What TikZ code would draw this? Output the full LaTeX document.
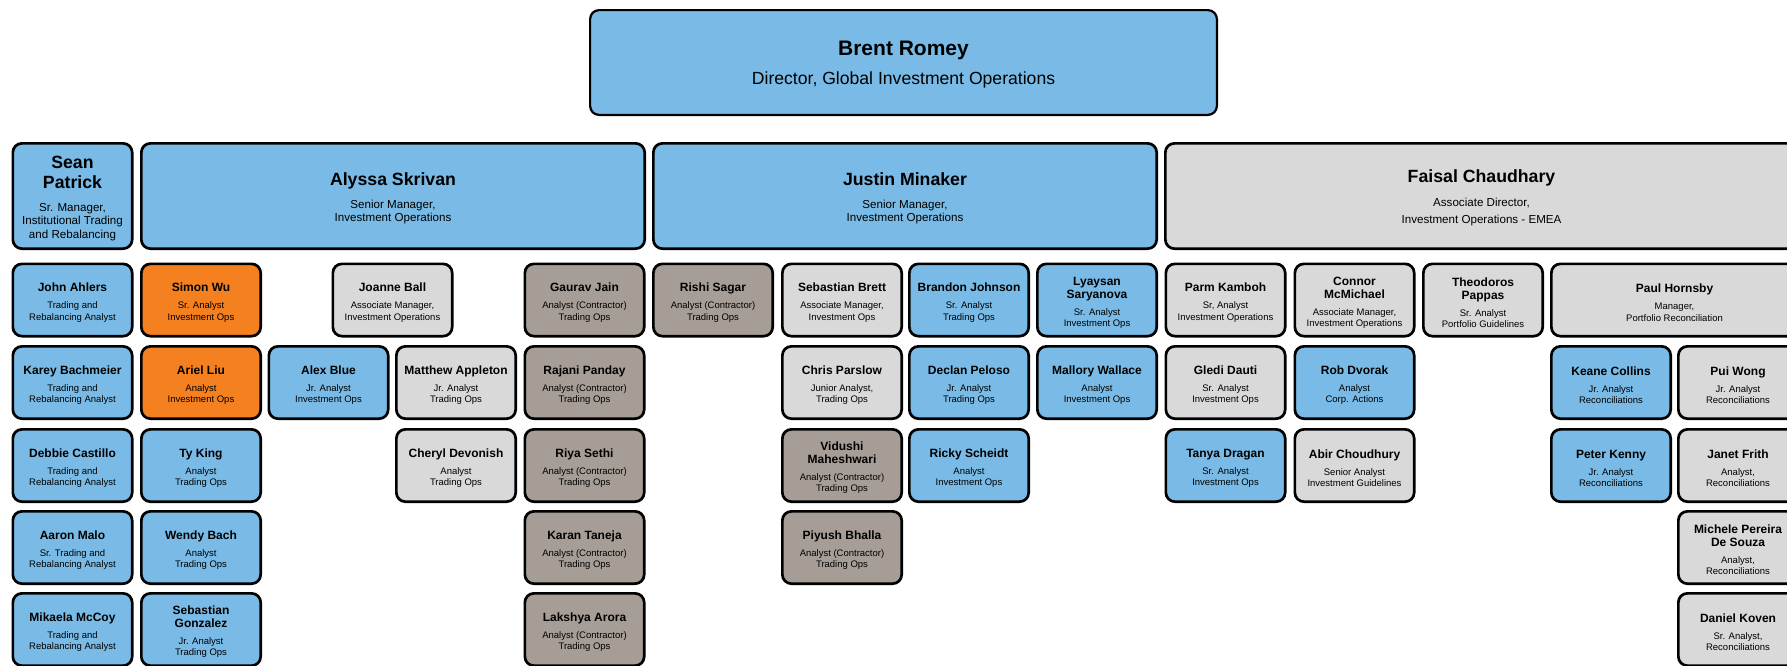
\documentclass[tikz,border=0pt]{standalone}
\usepackage{fontspec}
\setmainfont{Liberation Sans}
\definecolor{cardblue}{RGB}{121,187,230}
\definecolor{cardorange}{RGB}{245,128,32}
\definecolor{cardtaupe}{RGB}{166,158,150}
\definecolor{cardgrey}{RGB}{217,217,217}
\newcommand\person[2]{{\fontsize{6}{6.35}\selectfont\bfseries\rule{0pt}{6.9pt}#1\par}\vspace{3pt}{\fontsize{4.75}{5.6}\selectfont #2\par}}
\newcommand\manager[2]{{\fontsize{8.85}{10}\selectfont\bfseries\rule{0pt}{8.5pt}#1\par}\vspace{5pt}{\fontsize{5.8}{6.6}\selectfont #2\par}}
\begin{document}
\begin{tikzpicture}[x=.5pt,y=-.5pt,line join=round,
	card/.style={draw=black,line width=1.35pt,rounded corners=4.5pt,inner sep=0pt,
		minimum width=59.65pt,minimum height=36.15pt,text width=58pt,align=flush center},
	head/.style={card,minimum height=52.65pt},
	bluecard/.style={card,fill=cardblue},
	orangecard/.style={card,fill=cardorange},
	taupecard/.style={card,fill=cardtaupe},
	greycard/.style={card,fill=cardgrey}]
	\useasboundingbox (0,0) rectangle (1787,665);
	% director
	\node[head,fill=cardblue,line width=1.1pt,minimum width=313.4pt,minimum height=52.4pt,text width=300pt] (romey) at (903.5,62.5)
		{{\fontsize{10.5}{12}\selectfont\bfseries\rule{0pt}{9.5pt}Brent Romey\par}\vspace{3.9pt}{\fontsize{8.8}{10.5}\selectfont Director, Global Investment Operations\par}};
	% managers
	\node[head,fill=cardblue] (patrick) at (72.5,196) {\manager{Sean\\Patrick}{Sr. Manager,\\Institutional Trading\\and Rebalancing}};
	\node[head,fill=cardblue,minimum width=251.65pt,text width=240pt] (skrivan) at (393,196) {\manager{Alyssa Skrivan}{Senior Manager,\\Investment Operations}};
	\node[head,fill=cardblue,minimum width=251.65pt,text width=240pt] (minaker) at (905,196) {\manager{Justin Minaker}{Senior Manager,\\Investment Operations}};
	\node[head,fill=cardgrey,minimum width=316.15pt,text width=300pt] (chaudhary) at (1481.5,196) {\manager{Faisal Chaudhary}{Associate Director,\\[2.3pt]Investment Operations - EMEA}};
	% trading and rebalancing
	\node[bluecard] (ahlers) at (72.5,300) {\person{John Ahlers}{Trading and\\Rebalancing Analyst}};
	\node[bluecard] (bachmeier) at (72.5,382.5) {\person{Karey Bachmeier}{Trading and\\Rebalancing Analyst}};
	\node[bluecard] (castillo) at (72.5,465.5) {\person{Debbie Castillo}{Trading and\\Rebalancing Analyst}};
	\node[bluecard] (malo) at (72.5,547.5) {\person{Aaron Malo}{Sr. Trading and\\Rebalancing Analyst}};
	\node[bluecard] (mccoy) at (72.5,629.5) {\person{Mikaela McCoy}{Trading and\\Rebalancing Analyst}};
	% investment operations
	\node[orangecard] (wu) at (201,300) {\person{Simon Wu}{Sr. Analyst\\Investment Ops}};
	\node[orangecard] (liu) at (201,382.5) {\person{Ariel Liu}{Analyst\\Investment Ops}};
	\node[bluecard] (king) at (201,465.5) {\person{Ty King}{Analyst\\Trading Ops}};
	\node[bluecard] (bach) at (201,547.5) {\person{Wendy Bach}{Analyst\\Trading Ops}};
	\node[bluecard] (gonzalez) at (201,629.5) {\person{Sebastian\\Gonzalez}{Jr. Analyst\\Trading Ops}};
	\node[greycard] (ball) at (392.5,300) {\person{Joanne Ball}{Associate Manager,\\Investment Operations}};
	\node[bluecard] (ablue) at (328.5,382.5) {\person{Alex Blue}{Jr. Analyst\\Investment Ops}};
	\node[greycard] (appleton) at (456,382.5) {\person{Matthew Appleton}{Jr. Analyst\\Trading Ops}};
	\node[greycard] (devonish) at (456,465.5) {\person{Cheryl Devonish}{Analyst\\Trading Ops}};
	\node[taupecard] (jain) at (584.5,300) {\person{Gaurav Jain}{Analyst (Contractor)\\Trading Ops}};
	\node[taupecard] (panday) at (584.5,382.5) {\person{Rajani Panday}{Analyst (Contractor)\\Trading Ops}};
	\node[taupecard] (sethi) at (584.5,465.5) {\person{Riya Sethi}{Analyst (Contractor)\\Trading Ops}};
	\node[taupecard] (taneja) at (584.5,547.5) {\person{Karan Taneja}{Analyst (Contractor)\\Trading Ops}};
	\node[taupecard] (arora) at (584.5,629.5) {\person{Lakshya Arora}{Analyst (Contractor)\\Trading Ops}};
	% trading ops
	\node[taupecard] (sagar) at (713,300) {\person{Rishi Sagar}{Analyst (Contractor)\\Trading Ops}};
	\node[greycard] (brett) at (842,300) {\person{Sebastian Brett}{Associate Manager,\\Investment Ops}};
	\node[greycard] (parslow) at (842,382.5) {\person{Chris Parslow}{Junior Analyst,\\Trading Ops}};
	\node[taupecard] (maheshwari) at (842,465.5) {\person{Vidushi\\Maheshwari}{Analyst (Contractor)\\Trading Ops}};
	\node[taupecard] (bhalla) at (842,547.5) {\person{Piyush Bhalla}{Analyst (Contractor)\\Trading Ops}};
	\node[bluecard] (johnson) at (969,300) {\person{Brandon Johnson}{Sr. Analyst\\Trading Ops}};
	\node[bluecard] (peloso) at (969,382.5) {\person{Declan Peloso}{Jr. Analyst\\Trading Ops}};
	\node[bluecard] (scheidt) at (969,465.5) {\person{Ricky Scheidt}{Analyst\\Investment Ops}};
	\node[bluecard] (saryanova) at (1097,300) {\person{Lyaysan\\Saryanova}{Sr. Analyst\\Investment Ops}};
	\node[bluecard] (wallace) at (1097,382.5) {\person{Mallory Wallace}{Analyst\\Investment Ops}};
	% emea
	\node[greycard] (kamboh) at (1225.5,300) {\person{Parm Kamboh}{Sr, Analyst\\Investment Operations}};
	\node[greycard] (dauti) at (1225.5,382.5) {\person{Gledi Dauti}{Sr. Analyst\\Investment Ops}};
	\node[bluecard] (dragan) at (1225.5,465.5) {\person{Tanya Dragan}{Sr. Analyst\\Investment Ops}};
	\node[greycard] (mcmichael) at (1354.5,300) {\person{Connor\\McMichael}{Associate Manager,\\Investment Operations}};
	\node[bluecard] (dvorak) at (1354.5,382.5) {\person{Rob Dvorak}{Analyst\\Corp. Actions}};
	\node[greycard] (choudhury) at (1354.5,465.5) {\person{Abir Choudhury}{Senior Analyst\\Investment Guidelines}};
	\node[greycard] (pappas) at (1483,300) {\person{Theodoros\\Pappas}{Sr. Analyst\\Portfolio Guidelines}};
	\node[greycard,minimum width=123.15pt,text width=110pt] (hornsby) at (1674.5,300) {\person{Paul Hornsby}{Manager,\\Portfolio Reconciliation}};
	\node[bluecard] (collins) at (1611,382.5) {\person{Keane Collins}{Jr. Analyst\\Reconciliations}};
	\node[bluecard] (kenny) at (1611,465.5) {\person{Peter Kenny}{Jr. Analyst\\Reconciliations}};
	\node[greycard] (wong) at (1738,382.5) {\person{Pui Wong}{Jr. Analyst\\Reconciliations}};
	\node[greycard] (frith) at (1738,465.5) {\person{Janet Frith}{Analyst,\\Reconciliations}};
	\node[greycard] (desouza) at (1738,547.5) {\person{Michele Pereira\\De Souza}{Analyst,\\Reconciliations}};
	\node[greycard] (koven) at (1738,629.5) {\person{Daniel Koven}{Sr. Analyst,\\Reconciliations}};
\end{tikzpicture}
\end{document}
